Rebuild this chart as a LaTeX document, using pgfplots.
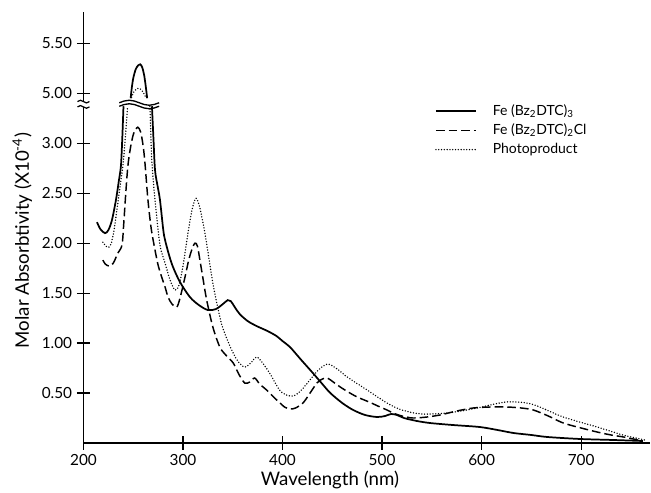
\documentclass[border=0pt]{standalone}
\usepackage{fontspec}
\setmainfont{Lato}
\usepackage{pgfplots}
\pgfplotsset{compat=1.18}

% spectra: values in units of 10^4; the y axis is broken between 3.4 and 4.9,
% points above the break are plotted 1.5 lower (y filter)
\pgfplotstableread{
nm y
213.6 2.21
217 2.14
221.6 2.10
225 2.13
228.6 2.23
232.6 2.43
235.5 2.62
237.7 2.78
239.2 3.10
240.2 3.37
}\solidA
\pgfplotstableread{
nm y
268.8 3.37
270.3 3.05
271.9 2.73
274.5 2.57
276.9 2.43
280.2 2.13
282 2.03
286 1.88
290 1.76
297 1.61
307 1.46
316 1.38
325 1.33
333 1.34
340 1.39
345 1.43
348 1.42
352 1.36
357 1.29
365 1.22
374 1.17
385 1.12
394 1.07
400 1.02
407.5 0.96
418 0.84
430.5 0.70
440 0.59
448 0.50
460 0.40
471 0.33
483 0.28
495 0.26
503 0.27
509 0.29
515 0.28
522 0.25
535 0.22
548 0.20
571 0.18
598 0.16
616 0.13
632 0.10
650 0.08
666 0.06
699 0.04
732 0.03
762 0.02
}\solidB
\pgfplotstableread{
nm y
247.4 4.95
248.5 5.05
250 5.15
252.5 5.24
255 5.28
257 5.29
259 5.26
261 5.18
262.7 5.06
264 4.95
}\solidTop
\pgfplotstableread{
nm y
219.5 1.83
222 1.79
226 1.77
230 1.80
234.5 1.90
238.7 1.98
240.5 2.20
242.5 2.50
244.7 2.78
247.5 2.97
250.5 3.10
254.5 3.16
257.5 3.11
260 2.97
261.8 2.80
264.8 2.43
268 2.15
271.9 1.93
275 1.78
278.6 1.66
282 1.56
285 1.46
289 1.39
293.7 1.36
297 1.45
302 1.66
305.5 1.82
308.7 1.93
312 2.00
314.5 1.97
317 1.83
320 1.65
323.8 1.43
330 1.16
337 0.96
343 0.88
350.5 0.80
356 0.69
362 0.60
367 0.61
372 0.65
377 0.59
384 0.53
391 0.46
397.5 0.40
402 0.36
407.5 0.34
413 0.35
420.5 0.40
427 0.49
434.5 0.60
440 0.64
445 0.65
451 0.61
458 0.56
466 0.51
475 0.46
487 0.41
498 0.36
505 0.33
511 0.30
520 0.27
531 0.25
545 0.26
558 0.28
575 0.32
591.5 0.35
608 0.36
625.5 0.36
640 0.35
652 0.33
667 0.27
682 0.20
700 0.15
716 0.11
730 0.08
742.5 0.06
762 0.02
}\dashed
\pgfplotstableread{
nm y
219.5 2.01
222.5 1.97
225.5 1.96
228 2.00
231 2.15
234.5 2.40
237.5 2.62
239.7 2.78
242 3.05
243.7 3.28
244.3 3.37
}\dotA
\pgfplotstableread{
nm y
266.8 3.37
267.8 3.05
268.8 2.80
271.9 2.43
276.9 1.98
282 1.80
287 1.63
292 1.53
296 1.58
300 1.77
305 2.10
309 2.33
313 2.45
317 2.35
322 2.10
326 1.85
330 1.60
335 1.35
340 1.15
348 0.95
355 0.82
362 0.76
368 0.80
374 0.86
380 0.80
387 0.70
397 0.53
404 0.48
411 0.47
418 0.52
425 0.60
435 0.72
445 0.79
455 0.74
465 0.66
485 0.53
505 0.40
520 0.33
540 0.29
565 0.30
585 0.33
600 0.36
625 0.41
650 0.39
682 0.26
716 0.16
742 0.08
764 0.03
}\dotB
\pgfplotstableread{
nm y
248.3 4.96
250.5 5.01
253 5.04
255 5.05
257.5 5.04
260 5.01
262.5 4.96
}\dotTop

\begin{document}
\begin{tikzpicture}[
  dotline/.style={line width=1.15pt, line cap=round, dash pattern=on 0pt off 2.1pt},
  dashline/.style={line width=1.1pt, dash pattern=on 6.5pt off 3pt},
  solidline/.style={line width=1.3pt},
]
\begin{axis}[
  scale only axis, width=425pt, height=323pt,
  xmin=200, xmax=769.3, ymin=0, ymax=4.31,
  clip=false,
  axis lines=left, axis line style={-, line width=0.9pt},
  tick align=center, major tick length=10pt,
  tick style={line width=0.9pt, black},
  xtick={200,300,...,700},
  ytick={0.5,1,1.5,2,2.5,3,3.5,4},
  yticklabels={0.50,1.00,1.50,2.00,2.50,3.00,5.00,5.50},
  /pgf/number format/assume math mode=true,
  ticklabel style={font=\fontsize{11.5}{13}\selectfont},
  label style={font=\fontsize{14}{16}\selectfont},
  xlabel={Wavelength (nm)},
  ylabel={Molar Absorbtivity (X10\textsuperscript{-4})},
  ylabel style={at={(axis description cs:-0.108,0.47)}, anchor=center},
  xlabel style={at={(axis description cs:0.435,-0.085)}, anchor=center},
  legend style={at={(0.62,0.793)}, anchor=north west, draw=none, fill=none,
    inner sep=0pt, row sep=1pt, font=\fontsize{10.5}{12}\selectfont,
    /tikz/every odd column/.style={column sep=10pt}},
  legend cell align=left,
  legend image code/.code={\draw[#1] (0pt,0pt) -- (30pt,0pt);},
  every axis plot/.append style={black, smooth, tension=0.5},
]
\addplot[solidline] table {\solidA};
\addlegendentry{Fe (Bz\textsubscript{2}DTC)\textsubscript{3}}
\addplot[dashline] table {\dashed};
\addlegendentry{Fe (Bz\textsubscript{2}DTC)\textsubscript{2}Cl}
\addplot[dotline] table {\dotA};
\addlegendentry{Photoproduct}
\addplot[solidline, forget plot] table {\solidB};
\addplot[solidline, forget plot, y filter/.expression={y-1.5}] table {\solidTop};
\addplot[dotline, forget plot] table {\dotB};
\addplot[dotline, forget plot, y filter/.expression={y-1.5}] table {\dotTop};
% break across the peak
\draw[line width=1pt] (axis cs:236,3.405) sin (axis cs:246,3.43) cos (axis cs:256,3.405) sin (axis cs:266,3.38) cos (axis cs:276,3.405);
\draw[line width=1pt] (axis cs:236,3.37) sin (axis cs:246,3.395) cos (axis cs:256,3.37) sin (axis cs:266,3.345) cos (axis cs:276,3.37);
\coordinate (yb) at (axis cs:200,3.39);
\coordinate (O) at (rel axis cs:0,0);
\end{axis}
% break on the y axis
\fill[white] (yb) ++(-3pt,-2.2pt) rectangle ++(6pt,4.4pt);
\draw[line width=0.9pt] (yb) ++(-4.5pt,2pt) sin ++(2.25pt,1pt) cos ++(2.25pt,-1pt) sin ++(2.25pt,-1pt) cos ++(2.25pt,1pt);
\draw[line width=0.9pt] (yb) ++(-4.5pt,-2pt) sin ++(2.25pt,1pt) cos ++(2.25pt,-1pt) sin ++(2.25pt,-1pt) cos ++(2.25pt,1pt);
\path (O) ++(-62.6pt,-33.75pt) rectangle ++(488.25pt,366pt);
\end{tikzpicture}
\end{document}
